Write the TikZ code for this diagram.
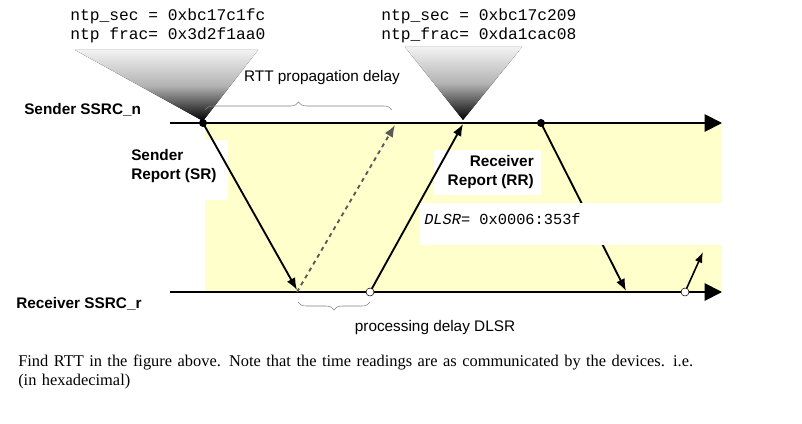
\documentclass[tikz,border=0pt]{standalone}
\usepackage{fontspec}
\setmainfont{Liberation Serif}
\newfontfamily\arialf{Liberation Sans}
\newfontfamily\monof{Liberation Mono}
\usetikzlibrary{arrows.meta,decorations.pathreplacing}
\definecolor{bgyel}{HTML}{FFFFCC}
\begin{document}
\begin{tikzpicture}[x=0.75pt,y=-0.75pt,
  lbl/.style={font=\arialf\bfseries\fontsize{11.5}{14}\selectfont,inner sep=0pt},
  mono/.style={font=\monof\fontsize{12.2}{14}\selectfont,inner sep=0pt,anchor=west},
  plain/.style={font=\arialf\fontsize{11.5}{14}\selectfont,inner sep=0pt},
  msg/.style={line width=1.4pt,-{Latex[length=9pt,width=7pt]}},
  axis/.style={line width=1.4pt,-{Triangle[length=13pt,width=13pt]}},
  brc/.style={draw=gray,thin,decorate,decoration={brace,amplitude=6pt}},
  gr/.style={top color=gray!10,bottom color=black,middle color=gray!60,draw=none}]
\useasboundingbox (0,0) rectangle (802,424);
\fill[bgyel] (205,123) rectangle (722,292);
\fill[white] (130,140) rectangle (228,200);
\fill[white] (434,150) rectangle (541,195);
\fill[gr] (75,50) -- (258,50) -- (203,121) -- cycle;
\fill[gr] (405,47) -- (522,47) -- (463,120) -- cycle;
\node[mono] (s1) at (70,16) {ntp\_sec = 0xbc17c1fc};
\node[mono] (s2) at (70,35) {ntp frac= 0x3d2f1aa0};
\node[mono] (r1) at (381,16) {ntp\_sec = 0xbc17c209};
\node[mono] (r2) at (381,35) {ntp\_frac= 0xda1cac08};
\coordinate (S0) at (170,123); \coordinate (Send) at (722,123);
\coordinate (R0) at (170,292); \coordinate (Rend) at (722,292);
\coordinate (a) at (203,123); \coordinate (b) at (297,292);
\coordinate (bb) at (297,290); \coordinate (c) at (395,125);
\coordinate (d) at (370,292); \coordinate (e) at (463,124);
\coordinate (f) at (541,123); \coordinate (g) at (626,291);
\coordinate (h) at (685,292); \coordinate (k) at (703,252);
\draw[axis] (S0) -- (Send);
\draw[axis] (R0) -- (Rend);
\draw[msg] (a) -- (bb);
\draw[msg,gray!70!black,dashed] (b) -- (c);
\draw[msg] (d) -- (e);
\draw[msg] (f) -- (g);
\draw[line width=1.2pt,-{Latex[length=8pt,width=6pt]}] (h) -- (k);
\fill[white] (420,203) rectangle (722,245);
\node[mono,font=\monof\fontsize{11.5}{13}\selectfont] (dl) at (424,219) {\textit{DLSR}= 0x0006:353f};
\fill (a) circle (3pt);
\fill (f) circle (3pt);
\draw[fill=white] (d) circle (3pt);
\draw[fill=white] (h) circle (3pt);
\draw[brc] (205,110) -- (392,110);
\draw[brc] (370,302) -- (298,302);
\node[plain] (rtt) at (322,78) {RTT propagation delay};
\node[plain] (pd) at (435,328) {processing delay DLSR};
\node[lbl,anchor=west] (snd) at (24,110) {Sender SSRC\_n};
\node[lbl,anchor=west] (rcv) at (16,304) {Receiver SSRC\_r};
\node[lbl,align=left,anchor=north west] (sr) at (131,149) {Sender\\Report (SR)};
\node[lbl,align=right,anchor=north east] (rr) at (534,155) {Receiver\\Report (RR)};
\node[font=\fontsize{12.3}{14}\selectfont,inner sep=0pt,align=left,anchor=north west,text width=720pt] (q) at (18,355) {Find RTT in the figure above. Note that the time readings are as communicated by the devices. i.e.\\(in hexadecimal)};
\end{tikzpicture}
\end{document}
